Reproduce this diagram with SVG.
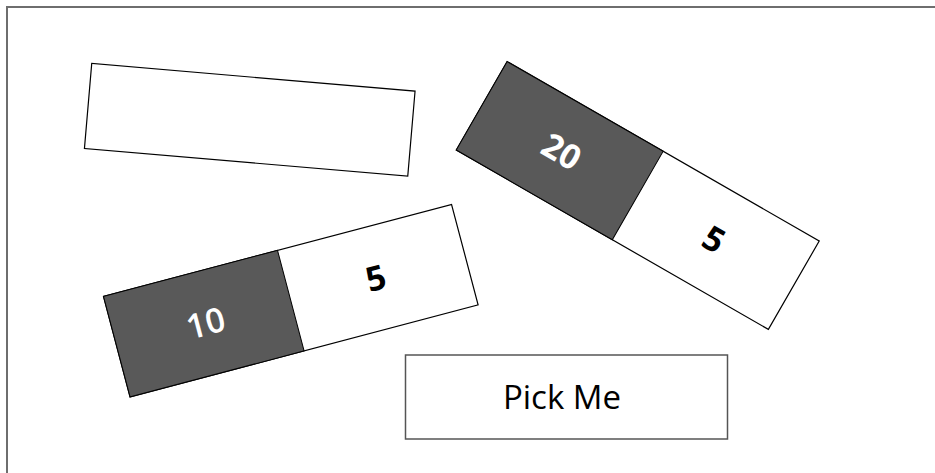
<svg xmlns="http://www.w3.org/2000/svg" width="935" height="473" viewBox="0 0 935 473">
<style>
.box{fill:#fff;stroke:#000;stroke-width:1.2}
.dark{fill:#595959;stroke:#000;stroke-width:1}
.num{font-family:"Open Sans","Noto Sans",sans-serif;font-size:34px;text-anchor:middle;font-weight:bold}
.w{fill:#fff}
.b{fill:#000}
.lbl{font-family:"Open Sans","Noto Sans",sans-serif;font-size:33px;text-anchor:middle;fill:#000}
</style>
<rect x="0" y="0" width="935" height="473" fill="#fff"/>
<path d="M7 473 V7 H935" fill="none" stroke="#6e6e6e" stroke-width="2"/>
<g id="blank">
<rect class="box" x="-162.25" y="-42.7" width="324.5" height="85.4" transform="translate(249.75 119.8) rotate(4.9)"/>
</g>
<g id="domino20" transform="translate(637.75 195.5) rotate(29.9)">
<rect class="box" x="-180" y="-51" width="360" height="102"/>
<rect class="dark" x="-180" y="-51" width="180" height="102"/>
<text class="num w" x="-88" y="12">20</text>
<text class="num b" x="88" y="12">5</text>
</g>
<g id="domino10" transform="translate(290.8 300.65) rotate(-14.8)">
<rect class="box" x="-180" y="-52" width="360" height="104"/>
<rect class="dark" x="-180" y="-52" width="180" height="104"/>
<text class="num w" x="-88" y="12" style="font-weight:600">10</text>
<text class="num b" x="88" y="12">5</text>
</g>
<g id="pickme">
<rect x="405.5" y="355" width="322" height="84" fill="#fff" stroke="#555" stroke-width="1.5"/>
<text class="lbl" x="562" y="409">Pick Me</text>
</g>
</svg>
